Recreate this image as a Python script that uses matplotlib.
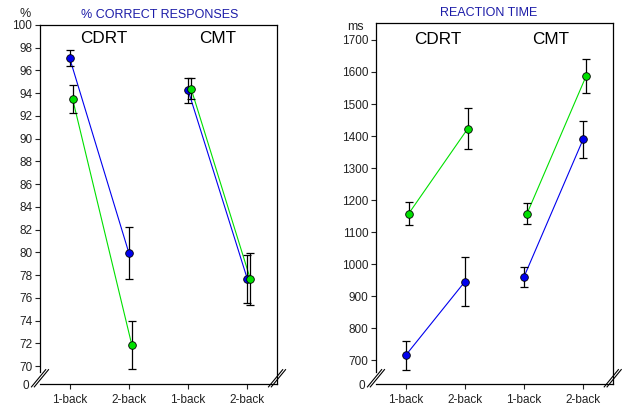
import matplotlib
matplotlib.use("Agg")
import matplotlib.pyplot as plt
from matplotlib.lines import Line2D

plt.rcParams['font.family'] = ['Liberation Sans', 'DejaVu Sans']

# x positions: 1-back / 2-back for CDRT, then CMT
x_labels = ["1-back", "2-back", "1-back", "2-back"]
tasks = ["CDRT", "CMT"]

# % correct responses
acc_blue = [97.1, 79.95, 94.25, 77.65]
acc_blue_err = [0.7, 2.3, 1.07, 2.1]
acc_green = [93.5, 71.85, 94.4, 77.65]
acc_green_err = [1.2, 2.1, 0.9, 2.3]

# reaction time (ms)
rt_blue = [715, 945, 960, 1390]
rt_blue_err = [45, 76, 30, 58]
rt_green = [1157, 1423, 1157, 1587]
rt_green_err = [36, 64, 33, 53]

blue = "#0000ee"
green = "#00e000"
title_col = "#1c1ca8"

fig = plt.figure(figsize=(6.26, 4.07), dpi=100)
ax1 = fig.add_axes([0.0639, 0.0565, 0.3786, 0.8821])
ax2 = fig.add_axes([0.6006, 0.0565, 0.3782, 0.8863])

pos = [1, 2, 3, 4]
dx = 0.05


def draw(ax, yb, eb, yg, eg, ylim, ticks, title, unit, unit_xy, title_x):
    for y, e, c, off in [(yb, eb, blue, 0.0), (yg, eg, green, dx)]:
        xs = [p + off for p in pos]
        for i in (0, 2):
            ax.plot(xs[i:i + 2], y[i:i + 2], color=c, lw=0.8, zorder=2)
        ax.errorbar(xs, y, yerr=e, fmt="none", ecolor="black", elinewidth=0.9,
                    capsize=3, capthick=0.9, zorder=3)
        ax.plot(xs, y, "o", ms=5.5, mfc=c, mec="black", mew=0.6, ls="none", zorder=4)
    ax.set_xlim(0.5, 4.5)
    ax.set_ylim(*ylim)
    ax.set_yticks(ticks)
    ax.set_xticks(pos)
    ax.set_xticklabels(x_labels)
    ax.tick_params(direction="out", length=3.5, width=0.8, labelsize=8.5, colors="#222222")
    ax.tick_params(axis="x", pad=3.5)
    ax.tick_params(axis="y", pad=2)
    for s in ax.spines.values():
        s.set_linewidth(0.9)
    # left spine stops above the axis break
    ax.spines["left"].set_bounds(ylim[0] + (ylim[1] - ylim[0]) * 0.033, ylim[1])
    ax.text(-0.045, -0.005, "0", transform=ax.transAxes, ha="right", va="center",
            fontsize=8.5, color="#222222")
    # break marks
    for xb in (0.0, 1.0):
        for d in (-0.006, 0.006):
            ax.add_line(Line2D([xb - 0.03 + d, xb + 0.03 + d], [-0.008, 0.04],
                               transform=ax.transAxes, color="black", lw=0.8,
                               clip_on=False))
    ax.text(title_x, 1.012, title, transform=ax.transAxes, ha="center", va="bottom",
            fontsize=9, color=title_col)
    ax.text(unit_xy[0], unit_xy[1], unit, transform=ax.transAxes, ha="center",
            va="center", fontsize=9, color="#222222")


draw(ax1, acc_blue, acc_blue_err, acc_green, acc_green_err, (68.42, 100),
     list(range(70, 101, 2)), "% CORRECT RESPONSES", "%", (-0.064, 1.03), 0.505)
draw(ax2, rt_blue, rt_blue_err, rt_green, rt_green_err, (626, 1752),
     list(range(700, 1701, 100)), "REACTION TIME", "ms", (-0.086, 0.99), 0.476)

for ax, xs, yy in [(ax1, (0.27, 0.75), 0.963), (ax2, (0.263, 0.738), 0.954)]:
    for t, xx in zip(tasks, xs):
        ax.text(xx, yy, t, transform=ax.transAxes, ha="center", va="center",
                fontsize=12.3, color="black")

fig.savefig("out.png", dpi=100)
